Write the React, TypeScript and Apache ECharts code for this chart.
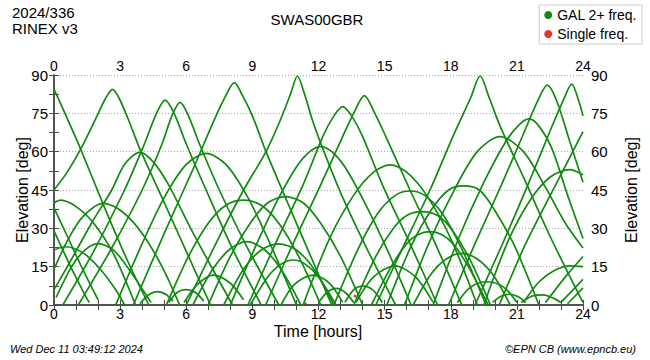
import React, { useEffect, useRef } from "react";
import * as echarts from "echarts";

// Tick labels
const xTicks = [0, 3, 6, 9, 12, 15, 18, 21, 24];
const yTicks = [0, 15, 30, 45, 60, 75, 90];

// Satellite passes: [time (h), elevation (deg)]
const pA = [[0, 84.5], [0.6, 73], [1.21, 61], [2.3, 38], [3.3, 18], [4.3, 0]];
const pB = [[0, 45], [0.6, 52], [1.21, 61], [1.9, 73], [2.35, 81], [2.66, 84.4], [2.95, 81], [3.4, 72], [3.9, 61], [4.9, 42], [6.0, 21], [7.1, 0]];
const pC = [[0, 6], [0.8, 18], [1.7, 32], [2.62, 45], [3.2, 55], [3.9, 59.7], [4.5, 56], [5.2, 47], [6.2, 30], [7.2, 14], [8.1, 0]];
const pD = [[0, 40], [0.3, 41], [1.0, 38.5], [1.8, 32], [2.7, 20], [3.7, 0]];
const pE = [[0, 14], [0.6, 25], [1.3, 34.5], [2.24, 39.8], [3.1, 36.5], [4.0, 28], [4.9, 15], [5.7, 0]];
const pF = [[0, 21.5], [0.5, 22.8], [1.3, 20.5], [2.1, 14], [2.8, 6], [3.2, 0]];
const pG = [[0.1, 3], [0.8, 15], [1.4, 21.5], [2.0, 24], [2.7, 21.5], [3.4, 14], [4.1, 5], [4.4, 1]];
const pH = [[0, 38], [0.6, 27], [1.3, 14], [2.0, 2]];
const pI = [[0, 29], [0.7, 16], [1.4, 4], [1.6, 1]];
const pK = [[0.4, 0], [1.8, 21], [3.2, 45], [4.1, 63], [4.65, 75], [5.04, 80.2], [5.45, 75], [6.0, 63], [6.9, 45], [8.1, 22], [9.4, 0]];
const pL = [[1.1, 0], [2.6, 22], [4.0, 45], [4.9, 63], [5.35, 74], [5.72, 79.3], [6.1, 74], [6.6, 63], [7.5, 45], [8.8, 22], [10.2, 0]];
const pM = [[2.8, 0], [4.0, 24], [5.0, 42], [6.0, 55], [6.9, 59.3], [7.8, 55], [8.8, 42], [9.8, 24], [11.0, 0]];
const pN = [[3.9, 0.5], [4.3, 4], [4.7, 5.2], [5.1, 4], [5.4, 1.5]];
const pO = [[5.2, 1], [5.6, 5], [6.0, 6], [6.4, 5], [6.8, 1.5]];
const pP = [[5.9, 1], [6.5, 8], [7.23, 11.7], [8.0, 8.5], [8.6, 2]];
const pQ = [[3.6, 0], [5.0, 28], [6.3, 53], [7.3, 73], [7.8, 82], [8.18, 87], [8.55, 82], [9.0, 74], [9.62, 60], [10.6, 40], [11.6, 20], [12.6, 0]];
const pR = [[6.0, 0], [7.4, 25], [8.6, 45], [9.62, 60], [10.3, 73], [10.75, 83], [11.04, 89.6], [11.35, 83], [11.7, 73], [12.07, 64], [13.0, 44], [14.2, 22], [15.5, 0]];
const pS = [[5.1, 0], [6.1, 19], [7.0, 32], [7.8, 39], [8.6, 41], [9.4, 39], [10.2, 32], [11.1, 19], [12.1, 0]];
const pT = [[7.0, 0], [8.0, 19], [8.9, 32], [9.7, 40], [10.5, 42.4], [11.3, 40], [12.1, 32], [13.0, 19], [14.0, 0]];
const pU = [[6.3, 0], [7.2, 14], [8.0, 22], [8.74, 24.8], [9.5, 22], [10.3, 14], [11.2, 0]];
const pV = [[7.7, 0], [8.6, 14], [9.4, 21.5], [10.18, 23.9], [11.0, 21.5], [11.8, 14], [12.7, 0]];
const pW = [[8.9, 0], [9.7, 11], [10.3, 16], [10.86, 17.6], [11.4, 16], [12.0, 11], [12.8, 0]];
const pX = [[10.3, 0], [10.9, 8], [11.75, 11.7], [12.5, 8.5], [13.1, 1]];
const pY = [[8.0, 0], [9.2, 24], [10.2, 42], [11.0, 54], [11.6, 60], [12.1, 62], [12.6, 60], [13.2, 54], [14.1, 40], [15.1, 22], [16.2, 0]];
const pZ = [[8.8, 0], [10.1, 25], [11.3, 47], [12.2, 66], [12.7, 74], [13.1, 77.6], [13.5, 74], [14.0, 66], [14.9, 47], [16.1, 25], [17.4, 0]];
const q1 = [[9.6, 0], [10.9, 25], [12.1, 47], [13.1, 66], [13.65, 76], [14.08, 81.9], [14.5, 76], [15.05, 66], [16.15, 45], [17.3, 24], [18.5, 0]];
const q2 = [[12.0, 1], [12.4, 5], [12.8, 6.5], [13.2, 5], [13.6, 1]];
const q3 = [[13.2, 1], [13.6, 6], [14.0, 7.4], [14.45, 6], [14.9, 1]];
const q4 = [[13.7, 1], [14.5, 11], [15.47, 15.3], [16.4, 11], [17.2, 1]];
const q5 = [[11.3, 0], [12.5, 26], [13.6, 43], [14.5, 52], [15.25, 54.8], [16.0, 52], [16.9, 43], [18.0, 26], [19.2, 0]];
const q6 = [[12.7, 0], [13.8, 22], [14.7, 36], [15.5, 43], [16.15, 44.6], [16.8, 43], [17.6, 36], [18.5, 22], [19.6, 0]];
const q7 = [[13.6, 0], [14.6, 19], [15.4, 30], [16.0, 35], [16.68, 36.5], [17.4, 35], [18.0, 30], [18.8, 19], [19.8, 0]];
const q8 = [[14.4, 0], [15.3, 15], [16.0, 24], [16.5, 27.5], [17.06, 28.7], [17.6, 27.5], [18.1, 24], [18.8, 15], [19.7, 0]];
const q9 = [[15.1, 0], [16.2, 23], [17.1, 37], [17.9, 45], [18.57, 46.6], [19.3, 45], [20.0, 37], [20.9, 23], [22.0, 0]];
const r1 = [[16.3, 0], [17.1, 12], [17.8, 18], [18.5, 20.2], [19.2, 18], [19.9, 12], [20.7, 0]];
const r2 = [[18.3, 1], [18.9, 7], [19.63, 9.1], [20.4, 7], [21.0, 1]];
const r3 = [[19.9, 1], [20.3, 3.5], [20.7, 4.2], [21.1, 3], [21.4, 1]];
const r4 = [[14.6, 0], [15.8, 22], [17.06, 45], [18.1, 66], [18.9, 81], [19.33, 89.6], [19.75, 81], [20.24, 70], [21.3, 50], [22.5, 27], [23.7, 6], [24, 1]];
const r5 = [[15.9, 0], [17.0, 24], [18.1, 44], [19.2, 60], [20.24, 65.9], [21.3, 60], [22.3, 46], [23.2, 32], [24, 22.3]];
const r6 = [[17.2, 0], [18.4, 27], [19.5, 48], [20.5, 64], [21.1, 70.5], [21.55, 72.8], [22.0, 70], [22.6, 61], [23.3, 43], [24, 26]];
const r7 = [[17.9, 0], [19.1, 24], [20.3, 47], [21.3, 67], [21.95, 80], [22.38, 86], [22.8, 80], [23.4, 64], [24, 48]];
const r8 = [[19.1, 0], [20.3, 23], [21.5, 47], [22.5, 68], [23.1, 80], [23.49, 86.4], [23.8, 80], [24, 74]];
const r9 = [[19.5, 0], [20.6, 25], [21.6, 41], [22.5, 50], [23.4, 53], [24, 51]];
const s1 = [[20.2, 0], [21.4, 24], [22.7, 46], [24, 67.8]];
const s2 = [[21.3, 1], [22.0, 9], [22.7, 13.5], [23.4, 15.3], [24, 15]];
const s3 = [[22.3, 1], [23.2, 11], [24, 19]];
const s4 = [[23.0, 1], [24, 10]];
const s5 = [[23.3, 0.5], [24, 6.7]];
const s6 = [[21.2, 1], [21.7, 3.5], [22.2, 4], [22.7, 2.5], [23.0, 1]];

const galPasses = [pA, pB, pC, pD, pE, pF, pG, pH, pI, pK, pL, pM, pN, pO, pP, pQ, pR, pS, pT, pU, pV, pW, pX, pY, pZ,
  q1, q2, q3, q4, q5, q6, q7, q8, q9, r1, r2, r3, r4, r5, r6, r7, r8, r9, s1, s2, s3, s4, s5, s6];

// Single-frequency observations
const singleFreq = [[11.4, 0.5], [13.66, 3.5]];

const GREEN = "#118a11";
const FONT = "'Liberation Sans', Arial, sans-serif";

export default function App() {
  const ref = useRef<HTMLDivElement>(null);
  useEffect(() => {
    if (!ref.current) return;
    const chart = echarts.init(ref.current, null, { renderer: "svg" });
    const axisLine = { show: true, lineStyle: { color: "#4a4a4a", width: 1.5 } };
    const xAxisBase = (pos: string) => ({
      type: "value",
      position: pos,
      min: 0,
      max: 24,
      interval: 3,
      axisLine,
      axisTick: { show: true, inside: true, length: 5, lineStyle: { color: "#4a4a4a" } },
      minorTick: { show: true, splitNumber: 3, length: 5, lineStyle: { color: "#4a4a4a" } },
      axisLabel: {
        margin: 2,
        fontSize: 14,
        fontFamily: FONT,
        color: "#000",
        formatter: (v: number) => (xTicks.includes(v) ? String(v) : ""),
      },
      splitLine: { show: false },
    });
    const yAxisBase = (pos: string, grid: boolean, margin: number) => ({
      type: "value",
      position: pos,
      min: 0,
      max: 90,
      interval: 15,
      axisLine,
      axisTick: { show: true, inside: true, length: 5, lineStyle: { color: "#4a4a4a" } },
      minorTick: { show: true, splitNumber: 2, length: 5, lineStyle: { color: "#4a4a4a" } },
      axisLabel: {
        margin,
        fontSize: 15,
        fontFamily: FONT,
        color: "#000",
        formatter: (v: number) => (yTicks.includes(v) ? String(v) : ""),
      },
      splitLine: { show: grid, lineStyle: { color: "#aaa", type: [1, 2], width: 1 } },
    });
    const series: any[] = galPasses.map((d) => ({
      name: "GAL 2+ freq.",
      type: "line",
      data: d,
      smooth: 0.3,
      showSymbol: false,
      symbol: "circle",
      clip: true,
      itemStyle: { color: GREEN },
      lineStyle: { color: GREEN, width: 1.7 },
      emphasis: { disabled: true },
    }));
    series.push({
      name: "Single freq.",
      type: "scatter",
      data: singleFreq,
      symbol: "circle",
      symbolSize: 3,
      itemStyle: { color: "#e00000" },
    });
    chart.setOption({
      animation: false,
      grid: { left: 54, right: 67, top: 75, bottom: 55, containLabel: false },
      xAxis: [xAxisBase("bottom"), xAxisBase("top")],
      yAxis: [yAxisBase("left", true, 6), yAxisBase("right", false, 8)],
      legend: {
        data: [
          { name: "GAL 2+ freq.", icon: "circle" },
          { name: "Single freq.", icon: "circle" },
        ],
        orient: "vertical",
        right: 8,
        top: 5,
        itemWidth: 8,
        itemHeight: 8,
        itemGap: 5,
        padding: [3, 5, 3, 5],
        borderColor: "#ccc",
        borderWidth: 1,
        selectedMode: false,
        textStyle: { fontSize: 14, fontFamily: FONT, color: "#000" },
      },
      graphic: [
        { type: "text", x: 12, y: 5, style: { text: "2024/336", font: `15px ${FONT}`, fill: "#000" } },
        { type: "text", x: 12, y: 21, style: { text: "RINEX v3", font: `15px ${FONT}`, fill: "#000" } },
        { type: "text", x: 317, y: 12, style: { text: "SWAS00GBR", font: `15px ${FONT}`, fill: "#000", textAlign: "center", align: "center" } },
        { type: "text", x: 22, y: 190, rotation: Math.PI / 2, style: { text: "Elevation [deg]", font: `16px ${FONT}`, fill: "#000", textAlign: "center", align: "center", textVerticalAlign: "middle", verticalAlign: "middle" } },
        { type: "text", x: 631, y: 190, rotation: Math.PI / 2, style: { text: "Elevation [deg]", font: `16px ${FONT}`, fill: "#000", textAlign: "center", align: "center", textVerticalAlign: "middle", verticalAlign: "middle" } },
        { type: "text", x: 318, y: 331, style: { text: "Time [hours]", font: `16px ${FONT}`, fill: "#000", textAlign: "center", align: "center", textVerticalAlign: "middle", verticalAlign: "middle" } },
        { type: "text", x: 10, y: 349, style: { text: "Wed Dec 11 03:49:12 2024", font: `italic 11px ${FONT}`, fill: "#000", textVerticalAlign: "middle", verticalAlign: "middle" } },
        { type: "text", x: 636, y: 349, style: { text: "©EPN CB (www.epncb.eu)", font: `italic 11px ${FONT}`, fill: "#000", textAlign: "right", align: "right", textVerticalAlign: "middle", verticalAlign: "middle" } },
      ],
      series,
    });
    return () => chart.dispose();
  }, []);
  return <div ref={ref} style={{ width: 650, height: 360, position: "absolute", left: 0, top: 0 }} />;
}
